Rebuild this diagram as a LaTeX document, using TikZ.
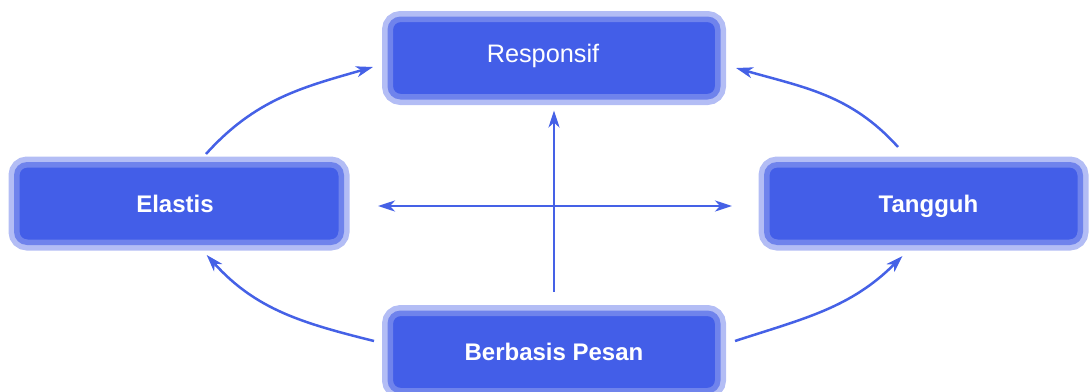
\documentclass[tikz,border=0pt]{standalone}
\usepackage{fontspec}
\setmainfont{Liberation Sans}
\usetikzlibrary{arrows.meta}
\definecolor{boxblue}{HTML}{435EE8}
\definecolor{ringblue}{HTML}{8898EF}
\definecolor{lineblue}{HTML}{4561E6}

\begin{document}
\begin{tikzpicture}[x=1pt,y=1pt,
    >={Stealth[length=17pt,width=11pt,inset=5pt]},
    box/.style={draw=ringblue, draw opacity=0.64, fill=boxblue, line width=11pt,
      rounded corners=13pt, minimum height=83pt, outer sep=0pt, inner sep=0pt,
      text=white, font=\fontsize{24}{28}\selectfont\bfseries},
    link/.style={draw=lineblue, line width=2.5pt}]
                        \useasboundingbox (0,0) rectangle (1089,-391);
                        \node [box, minimum width=333pt, text depth=10pt, font=\fontsize{25.3}{30}\selectfont] (resp) at (554,-58) {Responsif\kern22pt};
                        \node [box, minimum width=330pt] (elas) at (179,-203.5) {Elastis\kern8pt};
                        \node [box, minimum width=319pt, text depth=0pt] (tang) at (923.5,-203.5) {\kern10pt Tangguh};
                        \node [box, minimum width=333pt] (berb) at (554,-352) {Berbasis Pesan};
                        \draw [link, ->] ([yshift=18.5pt]berb.north) -- ([yshift=-11pt]resp.south);
                        \draw [link, <->] ([shift={(34,-2.5)}]elas.east) -- ([shift={(-32,-2.5)}]tang.west);
                        \draw [link, ->] ([shift={(27,8)}]elas.north) to[out=48,in=196] ([shift={(-14.5,-9)}]resp.west);
                        \draw [link, ->] ([shift={(-25.5,15)}]tang.north) to[out=132,in=344] ([shift={(15.5,-10)}]resp.east);
                        \draw [link, ->] ([shift={(-13.5,11)}]berb.west) to[out=166,in=312] ([shift={(27.7,-10)}]elas.south);
                        \draw [link, ->] ([shift={(14.5,11)}]berb.east) to[out=18,in=225] ([shift={(-21,-11)}]tang.south);
                    \end{tikzpicture}
\end{document}
